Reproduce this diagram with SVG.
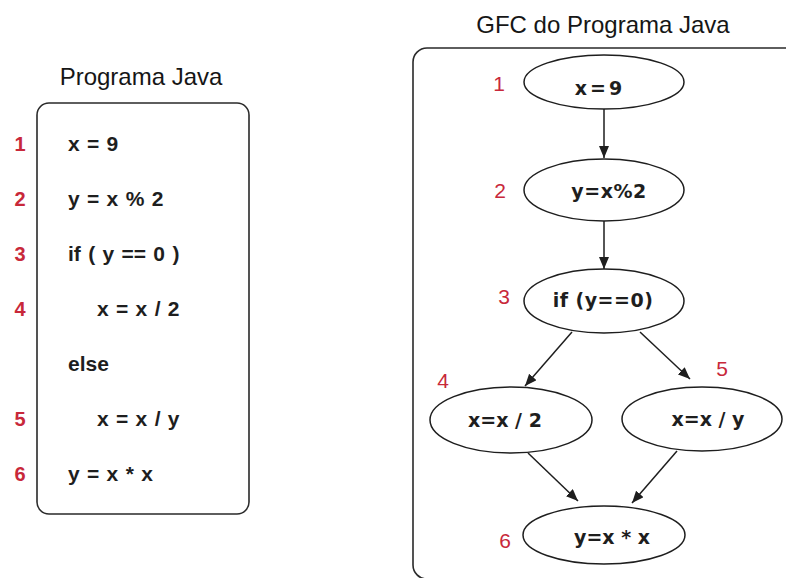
<svg xmlns="http://www.w3.org/2000/svg" width="786" height="578" viewBox="0 0 786 578">
  <style>
    .title { font-family: "Liberation Sans", Arial, sans-serif; font-size: 24px; fill: #161616; text-anchor: middle; }
    .code { font-family: "Liberation Sans", Arial, sans-serif; font-size: 21px; font-weight: bold; fill: #1e1e1e; word-spacing: 1.5px; }
    .lnum { font-family: "Liberation Sans", Arial, sans-serif; font-size: 20px; font-weight: bold; fill: #c8283a; text-anchor: middle; }
    .gnum { font-family: "Liberation Sans", Arial, sans-serif; font-size: 21px; fill: #c8283a; text-anchor: middle; }
    .box { fill: none; stroke: #2a2a2a; stroke-width: 1.6; }
    .node ellipse { fill: #ffffff; stroke: #1e1e1e; stroke-width: 1.5; }
    .node text.lbl { font-family: "DejaVu Sans", Verdana, sans-serif; font-size: 19px; font-weight: bold; fill: #1e1e1e; text-anchor: middle; }
    .edge { stroke: #1e1e1e; stroke-width: 1.5; fill: none; marker-end: url(#arrow); }
  </style>
  <defs>
    <marker id="arrow" markerUnits="userSpaceOnUse" markerWidth="13" markerHeight="11" refX="12" refY="5" orient="auto">
      <path d="M0,0 L12,5 L0,10 z" fill="#1e1e1e"/>
    </marker>
  </defs>

  <rect width="786" height="578" fill="#ffffff"/>

  <!-- Source listing -->
  <g id="listing">
    <text class="title" x="141" y="85">Programa Java</text>
    <rect class="box" x="37" y="103" width="212" height="411" rx="12"/>
    <text class="lnum" x="20" y="151">1</text>
    <text class="lnum" x="20" y="206">2</text>
    <text class="lnum" x="20" y="261">3</text>
    <text class="lnum" x="20" y="316">4</text>
    <text class="lnum" x="20" y="426">5</text>
    <text class="lnum" x="20" y="481">6</text>
    <text class="code" x="68" y="151">x = 9</text>
    <text class="code" x="68" y="206">y = x % 2</text>
    <text class="code" x="68" y="261">if ( y == 0 )</text>
    <text class="code" x="97" y="316">x = x / 2</text>
    <text class="code" x="68" y="371">else</text>
    <text class="code" x="97" y="426">x = x / y</text>
    <text class="code" x="68" y="481">y = x * x</text>
  </g>

  <!-- Control flow graph frame -->
  <g id="cfg-frame">
    <text class="title" x="603" y="33">GFC do Programa Java</text>
    <rect class="box" x="413" y="48" width="420" height="531" rx="14"/>
  </g>

  <!-- Connectors -->
  <g id="edges">
    <line class="edge" x1="604" y1="109" x2="604" y2="158"/>
    <line class="edge" x1="604" y1="221" x2="604" y2="269"/>
    <line class="edge" x1="572" y1="332" x2="525" y2="386"/>
    <line class="edge" x1="640" y1="332" x2="690" y2="379"/>
    <line class="edge" x1="528" y1="453" x2="578" y2="501"/>
    <line class="edge" x1="677" y1="451" x2="632" y2="503"/>
  </g>

  <!-- Nodes -->
  <g id="n1" class="node">
    <ellipse cx="604" cy="82" rx="80" ry="27"/>
    <text class="lbl" x="600" y="95" letter-spacing="3">x=9</text>
    <text class="gnum" x="499" y="91">1</text>
  </g>
  <g id="n2" class="node">
    <ellipse cx="604" cy="190" rx="80" ry="31"/>
    <text class="lbl" x="609" y="198" letter-spacing="0.5">y=x%2</text>
    <text class="gnum" x="500" y="198">2</text>
  </g>
  <g id="n3" class="node">
    <ellipse cx="604" cy="301" rx="80" ry="32"/>
    <text class="lbl" x="603" y="307" letter-spacing="0.5">if (y==0)</text>
    <text class="gnum" x="504" y="304">3</text>
  </g>
  <g id="n4" class="node">
    <ellipse cx="511" cy="420" rx="81" ry="33"/>
    <text class="lbl" x="505" y="427">x=x / 2</text>
    <text class="gnum" x="443" y="388">4</text>
  </g>
  <g id="n5" class="node">
    <ellipse cx="702" cy="419" rx="80" ry="32"/>
    <text class="lbl" x="708" y="426">x=x / y</text>
    <text class="gnum" x="722" y="376">5</text>
  </g>
  <g id="n6" class="node">
    <ellipse cx="604" cy="535" rx="81" ry="29"/>
    <text class="lbl" x="612" y="544">y=x * x</text>
    <text class="gnum" x="505" y="548">6</text>
  </g>
</svg>
